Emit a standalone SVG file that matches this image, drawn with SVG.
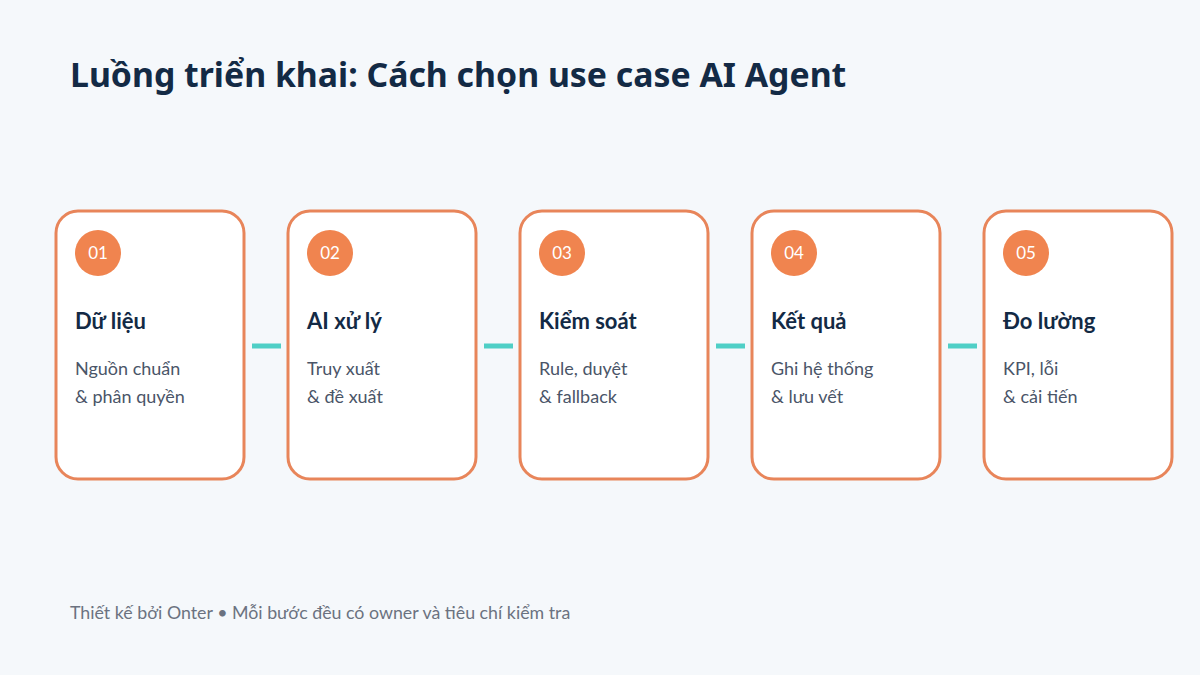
<svg xmlns="http://www.w3.org/2000/svg" width="1200" height="675" viewBox="0 0 1200 675">
<style>
.card{fill:#ffffff;stroke:#e8855a;stroke-width:3}
.badge{fill:#f0844f}
.num{font-family:Lato,"Noto Sans",sans-serif;font-size:17px;fill:#ffffff}
.h{font-family:Lato,"Noto Sans",sans-serif;font-size:22px;font-weight:bold;fill:#132a45}
.s{font-family:Lato,"Noto Sans",sans-serif;font-size:18px;fill:#4a5568}
.conn{stroke:#4fcfc6;stroke-width:5}
</style>
<rect width="1200" height="675" fill="#f5f8fb"/>
<text x="70" y="87" font-family="'Noto Sans',Lato,sans-serif" font-size="33.8" font-weight="bold" fill="#132a45">Luồng triển khai: Cách chọn use case AI Agent</text>
<g id="connectors">
<line class="conn" x1="252" y1="346" x2="281" y2="346"/>
<line class="conn" x1="484" y1="346" x2="513" y2="346"/>
<line class="conn" x1="716" y1="346" x2="745" y2="346"/>
<line class="conn" x1="948" y1="346" x2="977" y2="346"/>
</g>
<g id="n1">
<rect class="card" x="56" y="211" width="188" height="268" rx="22"/>
<circle class="badge" cx="98" cy="253" r="23"/>
<text class="num" x="98" y="259" text-anchor="middle">01</text>
<text class="h" x="75" y="329">Dữ liệu</text>
<text class="s" x="75" y="375">Nguồn chuẩn</text>
<text class="s" x="75" y="403">&amp; phân quyền</text>
</g>
<g id="n2">
<rect class="card" x="288" y="211" width="188" height="268" rx="22"/>
<circle class="badge" cx="330" cy="253" r="23"/>
<text class="num" x="330" y="259" text-anchor="middle">02</text>
<text class="h" x="307" y="329">AI xử lý</text>
<text class="s" x="307" y="375">Truy xuất</text>
<text class="s" x="307" y="403">&amp; đề xuất</text>
</g>
<g id="n3">
<rect class="card" x="520" y="211" width="188" height="268" rx="22"/>
<circle class="badge" cx="562" cy="253" r="23"/>
<text class="num" x="562" y="259" text-anchor="middle">03</text>
<text class="h" x="539" y="329">Kiểm soát</text>
<text class="s" x="539" y="375">Rule, duyệt</text>
<text class="s" x="539" y="403">&amp; fallback</text>
</g>
<g id="n4">
<rect class="card" x="752" y="211" width="188" height="268" rx="22"/>
<circle class="badge" cx="794" cy="253" r="23"/>
<text class="num" x="794" y="259" text-anchor="middle">04</text>
<text class="h" x="771" y="329">Kết quả</text>
<text class="s" x="771" y="375">Ghi hệ thống</text>
<text class="s" x="771" y="403">&amp; lưu vết</text>
</g>
<g id="n5">
<rect class="card" x="984" y="211" width="188" height="268" rx="22"/>
<circle class="badge" cx="1026" cy="253" r="23"/>
<text class="num" x="1026" y="259" text-anchor="middle">05</text>
<text class="h" x="1003" y="329">Đo lường</text>
<text class="s" x="1003" y="375">KPI, lỗi</text>
<text class="s" x="1003" y="403">&amp; cải tiến</text>
</g>
<text x="70" y="619" font-family="Lato,'Noto Sans',sans-serif" font-size="17.8" fill="#6b7280">Thiết kế bởi Onter • Mỗi bước đều có owner và tiêu chí kiểm tra</text>
</svg>
